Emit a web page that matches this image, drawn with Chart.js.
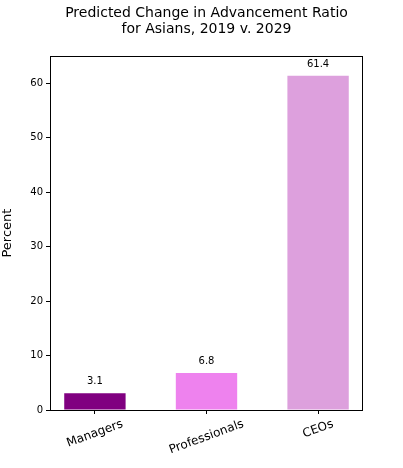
<!DOCTYPE html>
<html>
<head>
<meta charset="utf-8">
<script src="https://cdn.jsdelivr.net/npm/chart.js@4"></script>
<style>
  html, body { margin: 0; padding: 0; background: #fff; }
  #wrap { width: 403px; height: 468px; }
</style>
</head>
<body>
<div id="wrap"><canvas id="advChart"></canvas></div>
<script>
const categories = ['Managers', 'Professionals', 'CEOs'];
const changeValues = [3.1, 6.8, 61.4];
const barColors = ['#800080', '#EE82EE', '#DDA0DD'];
const yTicks = [0, 10, 20, 30, 40, 50, 60];

const FONT = 'DejaVu Sans';
const ROT = 20 * Math.PI / 180;

// frame round the plot, value labels above the bars, and
// category labels rotated about their centre (Chart.js anchors rotated labels at the end)
const extras = {
    id: 'extras',
    afterDraw(chart) {
        const { ctx, chartArea, scales } = chart;
        ctx.save();
        ctx.fillStyle = '#000';
        ctx.font = '10px "' + FONT + '"';
        ctx.textAlign = 'center';
        ctx.textBaseline = 'alphabetic';
        changeValues.forEach((v, i) => {
            const x = scales.x.getPixelForValue(i);
            const y = scales.y.getPixelForValue(v) - 9;
            ctx.fillText(v.toFixed(1), x, y);
        });

        ctx.font = '12px "' + FONT + '"';
        ctx.textBaseline = 'middle';
        const top = scales.x.top + 8;
        categories.forEach((c, i) => {
            const w = ctx.measureText(c).width;
            const x = scales.x.getPixelForValue(i);
            const y = top + (w * Math.sin(ROT) + 12 * Math.cos(ROT)) / 2;
            ctx.save();
            ctx.translate(x, y);
            ctx.rotate(-ROT);
            ctx.fillText(c, 0, 0);
            ctx.restore();
        });

        ctx.strokeStyle = '#000';
        ctx.lineWidth = 1;
        ctx.strokeRect(Math.round(chartArea.left) + 0.5, Math.round(chartArea.top) + 0.5,
            Math.round(chartArea.right - chartArea.left) - 1, Math.round(chartArea.bottom - chartArea.top));
        ctx.restore();
    }
};

const ctx = document.getElementById('advChart').getContext('2d');
const advChart = new Chart(ctx, {
    type: 'bar',
    data: {
        datasets: [{
            data: changeValues.map((v, i) => ({ x: i, y: v })),
            backgroundColor: barColors,
            borderWidth: 0,
            barPercentage: 0.55,
            categoryPercentage: 1
        }]
    },
    plugins: [extras],
    options: {
        responsive: true,
        maintainAspectRatio: false,
        animation: false,
        layout: { padding: { left: 0, right: 40, top: 0, bottom: 0 } },
        plugins: {
            legend: { display: false },
            tooltip: { enabled: false },
            title: {
                display: true,
                fullSize: false,
                text: ['Predicted Change in Advancement Ratio', 'for Asians, 2019 v. 2029'],
                color: '#000',
                font: { family: FONT, size: 14, weight: 'normal', lineHeight: 1.15 },
                padding: { top: 5, bottom: 19 }
            }
        },
        scales: {
            x: {
                type: 'linear',
                offset: false,
                min: -0.4025,
                max: 2.4025,
                afterBuildTicks(scale) {
                    scale.ticks = categories.map((c, i) => ({ value: i }));
                },
                afterFit(scale) { scale.height = 58; },
                grid: { display: true, offset: false, drawOnChartArea: false, tickLength: 4, color: '#000' },
                border: { display: false },
                ticks: { display: false }
            },
            y: {
                min: 0,
                max: 65,
                afterBuildTicks(scale) {
                    scale.ticks = yTicks.map(v => ({ value: v }));
                },
                afterFit(scale) { scale.width = 50; },
                grid: { display: true, drawOnChartArea: false, tickLength: 4, color: '#000' },
                border: { display: false },
                ticks: {
                    color: '#000',
                    font: { family: FONT, size: 10 },
                    padding: 3
                },
                title: {
                    display: true,
                    text: 'Percent',
                    color: '#000',
                    font: { family: FONT, size: 13 },
                    padding: { top: 0, bottom: 0 }
                }
            }
        }
    }
});
</script>
</body>
</html>
